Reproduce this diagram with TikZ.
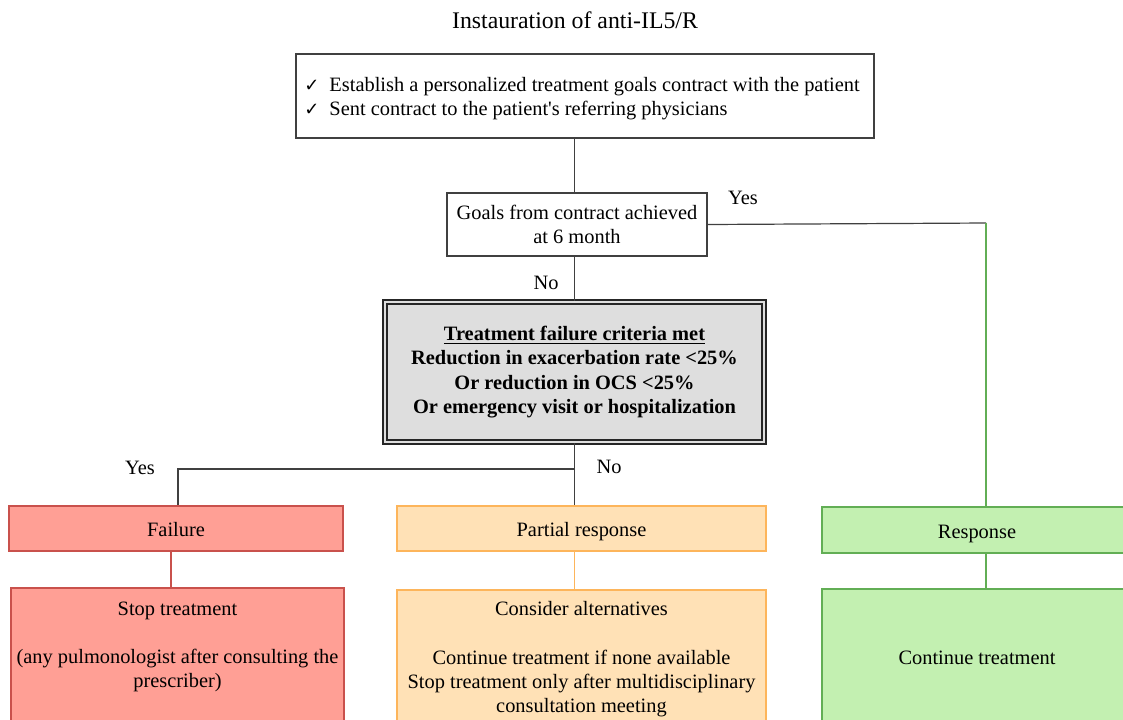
\documentclass[tikz,border=0pt]{standalone}
\usepackage{fontspec}
\setmainfont{Liberation Serif}[Ligatures=TeXOff]
\newfontfamily\symfont{DejaVu Sans}
\usetikzlibrary{calc}
\definecolor{failfill}{HTML}{FF9F95}
\definecolor{faildraw}{HTML}{C9514C}
\definecolor{partfill}{HTML}{FFE1B6}
\definecolor{partdraw}{HTML}{FDB55B}
\definecolor{respfill}{HTML}{C3F0B1}
\definecolor{respdraw}{HTML}{62AE55}
\definecolor{critfill}{HTML}{DEDEDE}
\newcommand{\tick}{{\symfont\small\char"2713}\hspace{5pt}}
\tikzset{
    box/.style={draw=black!75, line width=0.6pt, inner sep=0pt, align=center},
    failbox/.style={box, draw=faildraw, fill=failfill},
    partbox/.style={box, draw=partdraw, fill=partfill},
    respbox/.style={box, draw=respdraw, fill=respfill},
    link/.style={draw=black!75, line width=0.6pt},
  }

\begin{document}
\begin{tikzpicture}[x=0.5pt, y=-0.5pt, font=\fontsize{10.2}{12}\selectfont]
				  %cadre de l'image, les boites du bas sortent du cadre
				  \useasboundingbox (0,0) rectangle (1123,719);
				  \clip (0,0) rectangle (1123,719);
				  \node[font=\fontsize{11.9}{14}\selectfont] (title) at (575,20) {Instauration of anti-IL5/R};
				  \node[box, minimum width=289pt, minimum height=42pt] (plan) at (585,96) {};
				  \node[anchor=west, align=left, inner sep=0pt] (plantext) at (304,99) {\tick Establish a personalized treatment goals contract with the patient\\ \tick Sent contract to the patient's referring physicians};
				  \node[box, minimum width=130pt, minimum height=31.5pt] (goals) at (577,224.5) {Goals from contract achieved\\at 6 month};
				  \node[box, draw=black!85, line width=0.8pt, double=critfill, double distance=1pt, fill=critfill, minimum width=189.5pt, minimum height=70pt, font=\fontsize{10.2}{12.3}\selectfont\bfseries] (crit) at (574.5,372) {\underline{Treatment failure criteria met}\\Reduction in exacerbation rate <25\%\\Or reduction in OCS <25\%\\Or emergency visit or hospitalization};
				  %les trois issues
				  \node[failbox, minimum width=167pt, minimum height=22.5pt, text height=8.3pt, text depth=0pt] (fail) at (176,528.5) {Failure};
				  \node[partbox, minimum width=184.5pt, minimum height=22.5pt, text height=8.3pt, text depth=0pt] (part) at (581.5,528.5) {Partial response};
				  \node[respbox, minimum width=155pt, minimum height=23pt, text height=8.3pt, text depth=0pt] (resp) at (977,530) {Response};
				  \node[failbox, minimum width=166.5pt, minimum height=69pt] (stop) at (177.5,657) {Stop treatment\\[12pt](any pulmonologist after consulting the\\prescriber)\\ \mbox{}};
				  \node[partbox, minimum width=184.5pt, minimum height=69pt] (alt) at (581.5,659) {Consider alternatives\\[12.5pt]Continue treatment if none available\\Stop treatment only after multidisciplinary\\consultation meeting};
				  \node[respbox, minimum width=155pt, minimum height=68.5pt] (cont) at (977,657.5) {Continue treatment};
				  %liaisons
				  \coordinate (yes) at (986,223);
				  \coordinate (fork) at (575,469);
				  \draw[link] (plan.south -| crit) -- (goals.north -| crit);
				  \draw[link] (goals.south -| crit) -- (crit.north);
				  \draw[link] (goals.east) -- (yes);
				  \draw[link, draw=respdraw] (yes) -- (yes |- resp.north);
				  \draw[link] (crit.south) -- (crit.south |- part.north);
				  \draw[link] (fork) -- (fork -| 178,0) -- (178,0 |- fail.north);
				  \draw[link, draw=faildraw] (fail.south -| 171,0) -- (stop.north -| 171,0);
				  \draw[link, draw=partdraw] (part.south -| crit) -- (alt.north -| crit);
				  \draw[link, draw=respdraw] (resp.south -| yes) -- (cont.north -| yes);
				  %etiquettes
				  \node (yesgoals) at (743,198) {Yes};
				  \node (nogoals) at (546,283) {No};
				  \node (nocrit) at (609,467) {No};
				  \node (yescrit) at (140,468) {Yes};
				  \end{tikzpicture}
\end{document}
